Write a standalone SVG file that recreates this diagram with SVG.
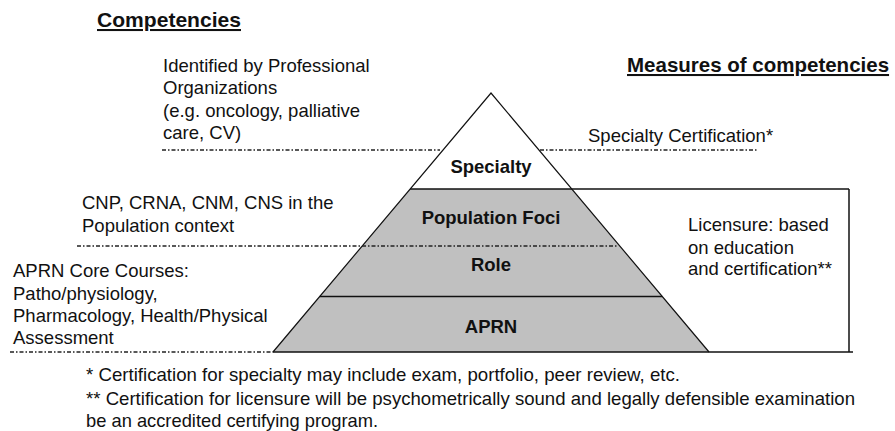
<svg xmlns="http://www.w3.org/2000/svg" width="895" height="431" viewBox="0 0 895 431">
  <style>
    .txt { font-family: "Liberation Sans", Arial, sans-serif; font-size: 18.5px; fill: #111; }
    .head { font-family: "Liberation Sans", Arial, sans-serif; font-size: 20.5px; font-weight: bold; fill: #111; text-decoration: underline; }
    .tier-label { font-family: "Liberation Sans", Arial, sans-serif; font-size: 18.5px; font-weight: bold; fill: #111; text-anchor: middle; }
    .tier { fill: #c0c0c0; stroke: none; }
    .edge { stroke: #111; stroke-width: 1.2; fill: none; }
    .rule { stroke: #111; stroke-width: 1.5; fill: none; }
    .guide { stroke: #222; stroke-width: 1.4; fill: none; stroke-dasharray: 4 2 1.5 2; }
  </style>

  <!-- headings -->
  <text id="heading-competencies" class="head" x="97" y="27" textLength="144" lengthAdjust="spacingAndGlyphs">Competencies</text>
  <text id="heading-measures" class="head" x="627" y="72">Measures of competencies</text>

  <!-- pyramid tiers -->
  <g id="tier-specialty">
    <polygon points="491,93 410.2,189 571.8,189" fill="#fff"/>
    <text class="tier-label" x="491" y="173">Specialty</text>
  </g>
  <g id="tier-population">
    <polygon class="tier" points="410.2,189 571.8,189 619.8,246 362.2,246"/>
    <text class="tier-label" x="491" y="224">Population Foci</text>
  </g>
  <g id="tier-role">
    <polygon class="tier" points="362.2,246 619.8,246 662.3,296.5 319.7,296.5"/>
    <text class="tier-label" x="491" y="271">Role</text>
  </g>
  <g id="tier-aprn">
    <polygon class="tier" points="319.7,296.5 662.3,296.5 709,352 273,352"/>
    <text class="tier-label" x="491" y="333">APRN</text>
  </g>

  <!-- outline, separators, guide lines and licensure bracket -->
  <g id="connectors">
    <polyline class="edge" points="273,352 491,93 709,352"/>
    <line class="rule" x1="410.2" y1="189" x2="849" y2="189"/>
    <line class="rule" x1="319.7" y1="296.5" x2="662.3" y2="296.5"/>
    <line class="rule" x1="273" y1="352" x2="853" y2="352"/>
    <line class="rule" x1="849" y1="189" x2="849" y2="352"/>
    <line class="guide" x1="162" y1="150" x2="440" y2="150"/>
    <line class="guide" x1="540" y1="150" x2="758" y2="150"/>
    <line class="guide" x1="77" y1="246" x2="617" y2="246"/>
    <line class="guide" x1="10" y1="352" x2="273" y2="352"/>
  </g>

  <!-- competency descriptions -->
  <g id="label-professional">
    <text class="txt" x="163" y="72">Identified by Professional</text>
    <text class="txt" x="163" y="94">Organizations</text>
    <text class="txt" x="163" y="116.5">(e.g. oncology, palliative</text>
    <text class="txt" x="163" y="138.5">care, CV)</text>
  </g>
  <g id="label-population">
    <text class="txt" x="82" y="208.5">CNP, CRNA, CNM, CNS in the</text>
    <text class="txt" x="82" y="231.5">Population context</text>
  </g>
  <g id="label-core">
    <text class="txt" x="13" y="277">APRN Core Courses:</text>
    <text class="txt" x="13" y="299.5">Patho/physiology,</text>
    <text class="txt" x="13" y="321.5">Pharmacology, Health/Physical</text>
    <text class="txt" x="13" y="343.5">Assessment</text>
  </g>

  <!-- measures -->
  <g id="label-certification">
    <text class="txt" x="588" y="141.5">Specialty Certification*</text>
  </g>
  <g id="label-licensure">
    <text class="txt" x="688" y="231">Licensure: based</text>
    <text class="txt" x="688" y="253.5">on education</text>
    <text class="txt" x="688" y="275">and certification**</text>
  </g>

  <!-- footnotes -->
  <g id="footnotes">
    <text class="txt" x="86" y="381" textLength="594" lengthAdjust="spacingAndGlyphs">* Certification for specialty may include exam, portfolio, peer review, etc.</text>
    <text class="txt" x="86" y="404.5" textLength="769" lengthAdjust="spacingAndGlyphs">** Certification for licensure will be psychometrically sound and legally defensible examination</text>
    <text class="txt" x="86" y="427" textLength="292" lengthAdjust="spacingAndGlyphs">be an accredited certifying program.</text>
  </g>
</svg>
